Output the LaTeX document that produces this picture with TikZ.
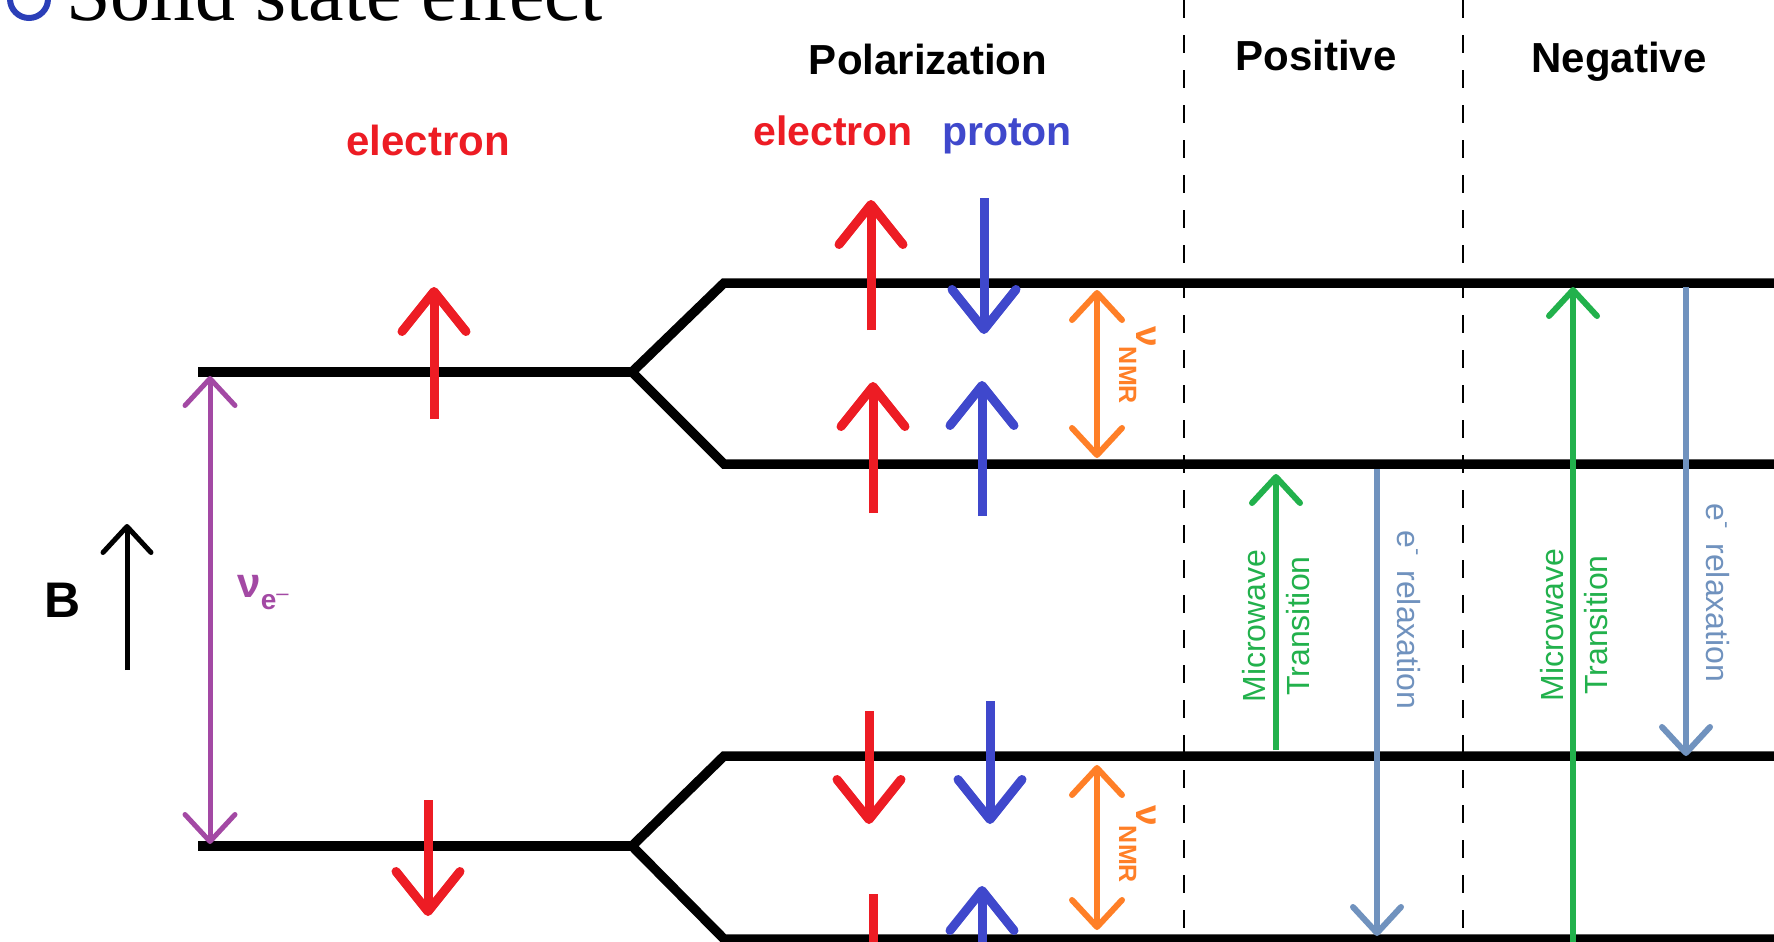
\documentclass[tikz,border=0pt]{standalone}
\usepackage{fontspec}
\setmainfont{Liberation Sans}
\newfontfamily\seriffont{Liberation Serif}
\usetikzlibrary{arrows.meta}
\definecolor{pred}{HTML}{ED1C24}
\definecolor{pblue}{HTML}{3F48CC}
\definecolor{porange}{HTML}{FF7F27}
\definecolor{ppurple}{HTML}{A349A4}
\definecolor{pgreen}{HTML}{22B14C}
\definecolor{psteel}{HTML}{7092BE}
\definecolor{bulletblue}{HTML}{2B3FB8}
\begin{document}
\begin{tikzpicture}[x=0.5pt,y=-0.5pt,
  level/.style={line width=4.75pt, line join=miter},
  divider/.style={line width=1pt, dash pattern=on 9pt off 8.5pt},
  spin/.style={line width=4.5pt, -{Straight Barb[length=20pt,width=32pt,round]}},
  spinshaft/.style={line width=4.5pt},
  thinarrow/.style={line width=3pt, -{Straight Barb[length=13pt,width=24pt,round]}},
  dblarrow/.style={line width=3pt, {Straight Barb[length=13.5pt,width=25pt,round]}-{Straight Barb[length=13.5pt,width=25pt,round]}},
  lab/.style={font=\fontsize{21pt}{21pt}\selectfont\bfseries, inner sep=0pt, anchor=base},
  rotlab/.style={anchor=base west, inner sep=0pt, rotate=-90},
  mwlab/.style={rotate=90, align=center, text=pgreen, inner sep=0pt, font=\fontsize{16pt}{22pt}\selectfont}
]
\useasboundingbox (0,0) rectangle (1774,942);
\fill[white] (0,0) rectangle (1774,942);
\clip (0,0) rectangle (1774,942);

% title
\draw[bulletblue, line width=3pt] (29,-1) circle[radius=19];
\node[anchor=base west, inner sep=0pt, font=\seriffont\fontsize{40pt}{40pt}\selectfont] (title) at (66,20) {Solid state effect};

% energy levels
\draw[level] (198,372) -- (632,372);
\draw[level] (1780,283) -- (724,283) -- (632,372) -- (724,464) -- (1780,464);
\draw[level] (198,846) -- (632,846);
\draw[level] (1780,756) -- (724,756) -- (632,846) -- (724,939) -- (1780,939);

% dividers
\draw[divider] (1184,0) -- (1184,942);
\draw[divider] (1463,0) -- (1463,942);

% headings
\node[lab] (pol) at (928,74) {Polarization};
\node[lab] (pos) at (1316,70) {Positive};
\node[lab] (neg) at (1619,72) {Negative};
\node[lab, text=pred] (el1) at (428,155) {electron};
\node[lab, text=pred, font=\fontsize{20.5pt}{20.5pt}\selectfont\bfseries] (el2) at (833,145) {electron};
\node[lab, text=pblue, font=\fontsize{20.5pt}{20.5pt}\selectfont\bfseries] (pr) at (1007,145) {proton};
\node[lab, font=\fontsize{25pt}{25pt}\selectfont\bfseries] (B) at (63,617) {B};

% left electron spins
\draw[spin, pred] (434,419) -- (434,287);
\draw[spin, pred] (428,800) -- (428,916);

% polarization spins
\draw[spin, pred] (871,330) -- (871,200);
\draw[spin, pblue] (984,198) -- (984,334);
\draw[spin, pred] (873,513) -- (873,382);
\draw[spin, pblue] (982,516) -- (982,381);
\draw[spin, pred] (869,711) -- (869,824);
\draw[spin, pblue] (990,701) -- (990,824);
\draw[spinshaft, pred] (873,894) -- (873,960);
\draw[spin, pblue] (982,990) -- (982,886);

% B field
\draw[thinarrow, line width=2.5pt] (127,670) -- (127,524);

% nu e-
\draw[dblarrow, ppurple, line width=2.5pt] (210,376) -- (210,844);
\node[anchor=base west, inner sep=0pt, text=ppurple, font=\bfseries] (nue) at (237,597)
  {\fontsize{21pt}{21pt}\selectfont ν\raisebox{-6pt}{\fontsize{14pt}{14pt}\selectfont e\raisebox{4.5pt}{\fontsize{11pt}{11pt}\selectfont\mdseries –}}};

% nu NMR
\draw[dblarrow, porange] (1097,290) -- (1097,458);
\draw[dblarrow, porange] (1097,765) -- (1097,930);
\node[rotlab, text=porange, font=\bfseries] (nmr1) at (1136,326)
  {\fontsize{18.5pt}{18.5pt}\selectfont ν\raisebox{-8.5pt}{\fontsize{12.5pt}{12.5pt}\selectfont NMR}};
\node[rotlab, text=porange, font=\bfseries] (nmr2) at (1136,805)
  {\fontsize{18.5pt}{18.5pt}\selectfont ν\raisebox{-8.5pt}{\fontsize{12.5pt}{12.5pt}\selectfont NMR}};

% positive
\draw[thinarrow, pgreen] (1276,750) -- (1276,474);
\node[mwlab] (mw1) at (1276,626) {Microwave\\Transition};
\draw[thinarrow, psteel] (1377,469) -- (1377,936);
\node[rotlab, text=psteel, font=\fontsize{16pt}{16pt}\selectfont] (rel1) at (1397,530)
  {e\raisebox{7pt}{\fontsize{11pt}{11pt}\selectfont -}\hspace{7.5pt}relaxation};

% negative
\draw[thinarrow, pgreen] (1573,990) -- (1573,287);
\node[mwlab] (mw2) at (1574,625) {Microwave\\Transition};
\draw[thinarrow, psteel] (1686,287) -- (1686,756);
\node[rotlab, text=psteel, font=\fontsize{16pt}{16pt}\selectfont] (rel2) at (1706,503)
  {e\raisebox{7pt}{\fontsize{11pt}{11pt}\selectfont -}\hspace{7.5pt}relaxation};
\end{tikzpicture}
\end{document}
